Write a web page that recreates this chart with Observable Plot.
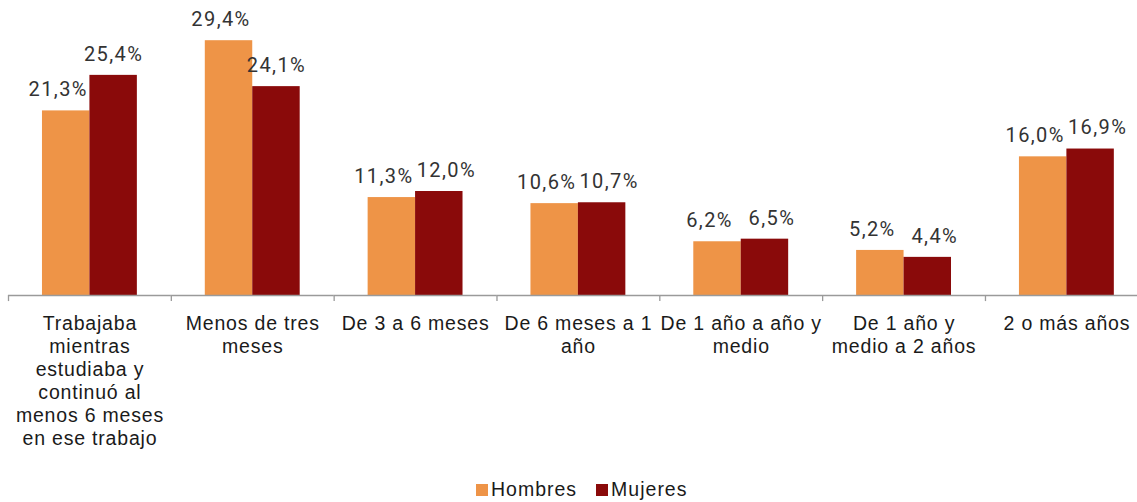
<!DOCTYPE html>
<html>
<head>
<meta charset="utf-8">
<script src="https://cdn.jsdelivr.net/npm/d3@7"></script>
<script src="https://cdn.jsdelivr.net/npm/@observablehq/plot@0.6"></script>
<style>
  html, body { margin: 0; padding: 0; background: #fff; overflow: hidden; }
  #wrap { position: relative; width: 1137px; height: 502px; }
  #legend { position: absolute; left: 476px; top: 478px; display: flex; align-items: center;
    font-family: "Liberation Sans", Arial, sans-serif; font-size: 19.5px; letter-spacing: 1px; color: #1a1a1a; }
  #legend .item { display: flex; align-items: center; margin-right: 19px; }
  #legend .sw { width: 12px; height: 12px; margin-right: 3px; }
  .valuelabels text { letter-spacing: 1.4px; }
  .cataxis text { letter-spacing: 0.8px; }
</style>
</head>
<body>
<div id="wrap"><div id="chart"></div><div id="legend"></div></div>
<script>
const categoryLabels = [
  "Trabajaba\nmientras\nestudiaba y\ncontinuó al\nmenos 6 meses\nen ese trabajo",
  "Menos de tres\nmeses",
  "De 3 a 6 meses",
  "De 6 meses a 1\naño",
  "De 1 año a año y\nmedio",
  "De 1 año y\nmedio a 2 años",
  "2 o más años"
];
const series = ["Hombres", "Mujeres"];
const hombres = [21.3, 29.4, 11.3, 10.6, 6.2, 5.2, 16.0];
const mujeres = [25.4, 24.1, 12.0, 10.7, 6.5, 4.4, 16.9];
const colors = ["#EE9447", "#8A0A0A"];

const rows = [];
categoryLabels.forEach((c, i) => {
  rows.push({cat: c, serie: series[0], value: hombres[i], other: mujeres[i]});
  rows.push({cat: c, serie: series[1], value: mujeres[i], other: hombres[i]});
});

const W = 1137, H = 470, ML = 8, MR = -10.8;
const PAD_OUTER = 0.716;
const facetW = (W - ML - MR) / categoryLabels.length;
const bandW = facetW / (series.length + 2 * PAD_OUTER);
const fmt = v => v.toFixed(1).replace(".", ",") + "%";

// nudge labels apart: Hombres slightly left, Mujeres right when the two labels sit at similar heights
const hLabels = rows.filter(d => d.serie === series[0]);
const mLabels = rows.filter(d => d.serie === series[1]);
const close = d => Math.abs(d.value - d.other) < 2.5;
const mNear = mLabels.filter(close);
const mFar = mLabels.filter(d => !close(d));
const labelOpts = {fx: "cat", x: "serie", y: "value", text: d => fmt(d.value), dy: -21,
  fontFamily: "Roboto, sans-serif", fontSize: 20, fill: "#333", className: "valuelabels"};

const chart = Plot.plot({
  width: W, height: H,
  marginLeft: ML, marginRight: MR, marginTop: 35, marginBottom: H - 295,
  style: {fontFamily: "'Liberation Sans', Arial, sans-serif", background: "#fff"},
  fx: {domain: categoryLabels, padding: 0, round: false, label: null},
  x: {domain: series, paddingInner: 0, paddingOuter: PAD_OUTER, round: false, axis: null},
  y: {domain: [0, 30], axis: null},
  color: {domain: series, range: colors},
  marks: [
    Plot.barY(rows, {fx: "cat", x: "serie", y: "value", fill: "serie"}),
    Plot.ruleY([0], {stroke: "#9a9a9a", strokeWidth: 1.3}),
    Plot.ruleX(hLabels, {fx: "cat", x: "serie", y1: 0, y2: -0.7,
      dx: -(facetW / 2 - bandW / 2), stroke: "#9a9a9a", strokeWidth: 1.3}),
    Plot.text(hLabels, {...labelOpts, dx: -8}),
    Plot.text(mNear, {...labelOpts, dx: 7}),
    Plot.text(mFar, {...labelOpts, dx: 0}),
    Plot.axisFx({anchor: "bottom", tickSize: 0, tickPadding: 18, fontSize: 19.5, lineHeight: 1.18,
      fill: "#1a1a1a", label: null, className: "cataxis"})
  ]
});
document.getElementById("chart").appendChild(chart);

const legend = document.getElementById("legend");
series.forEach((s, i) => {
  const it = document.createElement("div");
  it.className = "item";
  it.innerHTML = `<span class="sw" style="background:${colors[i]}"></span><span>${s}</span>`;
  legend.appendChild(it);
});
</script>
</body>
</html>
